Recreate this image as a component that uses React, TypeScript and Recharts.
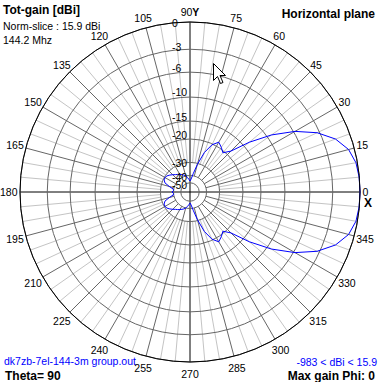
import React from 'react';
import { RadarChart, PolarGrid, PolarAngleAxis, PolarRadiusAxis, Radar } from 'recharts';

// azimuth angles (deg) and total gain normalised to max (dB)
const phiDeg = [
  0, 5, 10, 15, 20, 25, 30, 35, 40, 45, 50, 55, 60, 65, 70, 75, 80, 85,
  90, 95, 100, 105, 110, 115, 120, 125, 130, 135, 140, 145, 150, 155, 160, 165, 170, 175,
  180, 185, 190, 195, 200, 205, 210, 215, 220, 225, 230, 235, 240, 245, 250, 255, 260, 265,
  270, 275, 280, 285, 290, 295, 300, 305, 310, 315, 320, 325, 330, 335, 340, 345, 350, 355,
];
const gainDb = [
  0, -0.02, -0.15, -0.6, -1.6, -3.3, -5.8, -9.2, -13.5, -18.5, -20.6, -19.5, -18.6, -20.3, -24, -30.5, -38, -44,
  -47, -44.5, -42, -40, -38.5, -37.5, -36.5, -35.5, -34.6, -33.3, -32, -30.9, -30.4, -30.6, -31.8, -35.5, -39.5, -40,
  -38.5, -40, -39.5, -35.5, -31.8, -30.6, -30.4, -30.9, -32, -33.3, -34.6, -35.5, -36.5, -37.5, -38.5, -40, -42, -44.5,
  -47, -44, -38, -30.5, -24, -20.3, -18.6, -19.5, -20.6, -18.5, -13.5, -9.2, -5.8, -3.3, -1.6, -0.6, -0.15, -0.02,
];
const ringDb = [0, -3, -6, -10, -15, -20, -30, -40, -50];
const angleLabels = [0, 15, 30, 45, 60, 75, 90, 105, 120, 135, 150, 165, 180, 195, 210, 225, 240, 255, 270, 285, 300, 315, 330, 345];
const axisAngles = [0, 90, 180, 270];
const spokeAngles = angleLabels.filter((a) => a % 90 !== 0);
const minorAngles = phiDeg.filter((a) => a % 15 !== 0);

// ARRL log-periodic radial scale
const arrl = (db: number) => Math.pow(0.89, -db / 2);
const data = phiDeg.map((p, i) => ({ phi: p, rho: arrl(gainDb[i]) }));
const ringRho = ringDb.map(arrl);

const W = 381;
const H = 382;
const CX = 190;
const CY = 192;
const R = 170;
const FONT = '"Liberation Sans", Arial, sans-serif';
const DARK = '#666666';
const LIGHT = '#c4c4c4';
const RING_LABEL_SHIFT = [1, -2, -4, -5, -4, -4, 1, 1.5, 2];

const layer: React.CSSProperties = { position: 'absolute', left: 0, top: 0 };
const common = {
  width: W,
  height: H,
  cx: CX,
  cy: CY,
  outerRadius: R,
  startAngle: 0,
  endAngle: 360,
  data,
  margin: { top: 0, right: 0, bottom: 0, left: 0 },
};

function AngleTick(props: any) {
  const { x, y, payload } = props;
  const deg = payload.coordinate;
  const a = (deg * Math.PI) / 180;
  const c = Math.cos(a);
  const s = Math.sin(a);
  const px = x - c * 8;
  const py = y + s * 8;
  const label = String(payload.value);
  const w = label.length * 5.8;
  const tx = px + c * (w / 2 + 2.5);
  const ty = py - s * (s > 0 ? 10 : 12);
  return (
    <g>
      <text x={tx} y={ty} textAnchor="middle" dominantBaseline="central" fontSize={10.5} fontFamily={FONT} fill="#000">
        {label}
        {payload.value === 90 && <tspan fontWeight="bold">Y</tspan>}
      </text>
      {payload.value === 0 && (
        <text x={tx + 2.5} y={ty + 11} textAnchor="middle" dominantBaseline="central" fontSize={12} fontWeight="bold" fontFamily={FONT} fill="#000">
          X
        </text>
      )}
    </g>
  );
}

function RadiusTick(props: any) {
  const { x, y, index } = props;
  return (
    <text x={x - 18} y={y + RING_LABEL_SHIFT[index]} textAnchor="start" dominantBaseline="central" fontSize={10.5} fontFamily={FONT} fill="#000">
      {String(ringDb[index])}
    </text>
  );
}

function Spokes({ ticks, inner, color }: { ticks: number[]; inner: number; color: string }) {
  return (
    <div style={layer}>
      <RadarChart {...common} innerRadius={inner}>
        <PolarGrid gridType="circle" polarRadius={[]} stroke={color} />
        <PolarAngleAxis type="number" dataKey="phi" domain={[0, 360]} ticks={ticks} tick={false} axisLine={false} tickLine={false} />
        <PolarRadiusAxis type="number" domain={[0, 1]} tick={false} axisLine={false} />
      </RadarChart>
    </div>
  );
}

export default function App() {
  return (
    <div style={{ position: 'absolute', left: 0, top: 0, width: W, height: H, background: '#fff' }}>
      <Spokes ticks={minorAngles} inner={R * arrl(-30)} color={LIGHT} />
      <Spokes ticks={spokeAngles} inner={R * arrl(-40)} color={DARK} />
      <Spokes ticks={axisAngles} inner={0} color="#000" />
      {/* rings, labels and the pattern */}
      <div style={layer}>
        <RadarChart {...common} innerRadius={0}>
          <PolarGrid gridType="circle" radialLines={false} stroke={DARK} />
          <PolarAngleAxis
            type="number"
            dataKey="phi"
            domain={[0, 360]}
            ticks={angleLabels}
            tick={<AngleTick />}
            tickSize={8}
            tickLine={false}
            axisLineType="circle"
            axisLine={{ stroke: '#000' }}
          />
          <PolarRadiusAxis
            type="number"
            angle={90}
            domain={[0, 1]}
            ticks={ringRho}
            tick={<RadiusTick />}
            axisLine={false}
          />
          <Radar dataKey="rho" stroke="#0000ff" strokeWidth={1} fill="none" fillOpacity={0} dot={false} isAnimationActive={false} />
        </RadarChart>
      </div>
      <svg width={W} height={H} style={{ ...layer, pointerEvents: 'none' }}>
        <g fontFamily={FONT}>
          <text x={3} y={13.5} fontSize={12} fontWeight="bold">Tot-gain [dBi]</text>
          <text x={3} y={29.5} fontSize={10.5}>Norm-slice : 15.9 dBi</text>
          <text x={3} y={44} fontSize={10.5}>144.2 Mhz</text>
          <text x={375} y={17.5} fontSize={12} fontWeight="bold" textAnchor="end">Horizontal plane</text>
          <text x={4} y={364.5} fontSize={10.5} fill="#0000ff">dk7zb-7el-144-3m group.out</text>
          <text x={5} y={379.5} fontSize={12} fontWeight="bold">Theta= 90</text>
          <text x={377} y={366} fontSize={10.5} fill="#0000ff" textAnchor="end">-983 &lt; dBi &lt; 15.9</text>
          <text x={375} y={379.5} fontSize={12} fontWeight="bold" textAnchor="end">Max gain Phi: 0</text>
        </g>
        {/* mouse pointer visible in the screenshot */}
        <path d="M213.5 63.5 L213.5 80.5 L217.5 76.5 L220.5 83.5 L223 82.5 L220 75.5 L225.5 75.5 Z" fill="#fff" stroke="#000" strokeWidth={1} />
      </svg>
    </div>
  );
}
